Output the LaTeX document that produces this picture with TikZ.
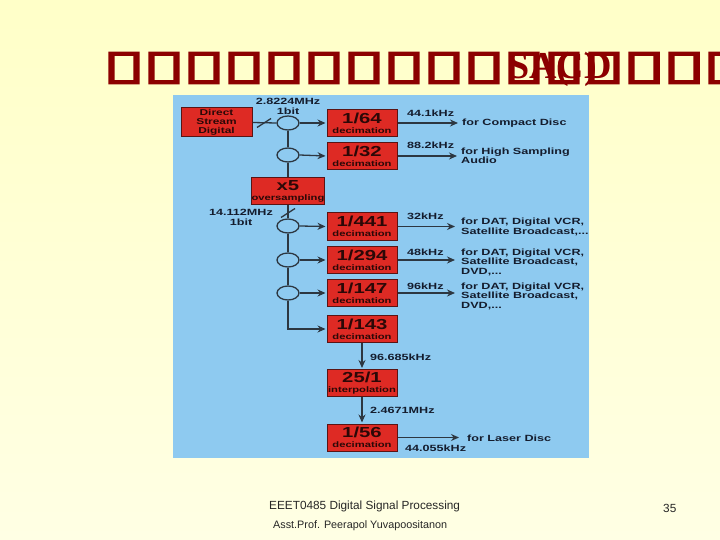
\documentclass[tikz,border=0pt]{standalone}
\usepackage{fontspec}
\setmainfont{Liberation Sans}
\newfontfamily\diagfont[FakeStretch=1.4]{Liberation Sans}
\newfontfamily\tofufont[FakeStretch=2.0,FakeBold=5]{DejaVu Sans}
\newfontfamily\titlefont{Liberation Serif}
\usepackage{tikz}
\usetikzlibrary{arrows.meta,shapes.geometric}
\definecolor{PaperYellow}{RGB}{255,255,200}
\definecolor{PaperLight}{RGB}{255,255,228}
\definecolor{PanelBlue}{RGB}{142,202,240}
\definecolor{BoxRed}{RGB}{222,42,36}
\definecolor{BoxEdge}{RGB}{90,20,20}
\definecolor{LineGray}{RGB}{45,55,65}
\definecolor{LabelNavy}{RGB}{20,28,45}
\definecolor{TitleRed}{RGB}{140,0,0}

\newcommand{\blocktext}[2]{{\fontsize{14.5}{13}\selectfont #1}\\[-2pt]{\fontsize{8}{8}\selectfont #2}}

\tikzset{
  blockbox/.style={draw=BoxEdge, line width=1pt, fill=BoxRed, minimum width=70pt, minimum height=27pt,
    inner sep=0pt, align=center, text=black!80!BoxRed, font=\diagfont\bfseries},
  tapnode/.style={ellipse, draw=LineGray, line width=1.3pt, fill=PanelBlue, minimum width=22pt,
    minimum height=14pt, inner sep=0pt},
  wire/.style={draw=LineGray, line width=1.3pt},
  arrowwire/.style={wire, -{Stealth[length=8pt,width=7pt]}, shorten >=1pt},
  ratelabel/.style={font=\diagfont\bfseries\fontsize{9}{9.5}\selectfont, text=LabelNavy, inner sep=0pt, anchor=west},
  uselabel/.style={font=\diagfont\bfseries\fontsize{9}{9.5}\selectfont, text=LabelNavy, inner sep=0pt,
    anchor=west, align=left},
  tofu/.style={font=\tofufont\fontsize{40}{40}\selectfont, text=TitleRed, inner sep=0pt},
  footer/.style={font=\fontsize{11.8}{13}\selectfont, text=black!85, inner sep=0pt, anchor=west}
}

\begin{document}
\begin{tikzpicture}[x=1pt,y=-1pt]
    \useasboundingbox (0,0) rectangle (720,540);
    \shade[top color=PaperYellow, bottom color=PaperLight] (0,0) rectangle (720,540);

    % title
    \foreach \k in {0,...,15}
        \node[tofu] (tofu\k) at (124+40*\k,68) {▯};
    \node[font=\titlefont\bfseries\fontsize{38}{38}\selectfont, text=TitleRed, inner sep=0pt] (title) at (560,69) {SA\rlap{(}C\rlap{)}D};

    % panel
    \fill[PanelBlue] (173,95) rectangle (589,458);

    \node[blockbox, minimum width=71pt, minimum height=29pt, font=\diagfont\bfseries\fontsize{8.5}{9}\selectfont] (dsd) at (216.5,122.5) {Direct\\Stream\\Digital};

    \node[tapnode] (c1) at (288,123) {};
    \node[tapnode] (c2) at (288,155) {};
    \node[blockbox, minimum width=72pt] (over5) at (288,191.5) {\blocktext{x5}{oversampling}};
    \node[tapnode] (c3) at (288,226) {};
    \node[tapnode] (c4) at (288,260) {};
    \node[tapnode] (c5) at (288,293) {};

    \node[blockbox] (dec64) at (362,123) {\blocktext{1/64}{decimation}};
    \node[blockbox] (dec32) at (362,156) {\blocktext{1/32}{decimation}};
    \node[blockbox] (dec441) at (362,226.5) {\blocktext{1/441}{decimation}};
    \node[blockbox] (dec294) at (362,260) {\blocktext{1/294}{decimation}};
    \node[blockbox] (dec147) at (362,293) {\blocktext{1/147}{decimation}};
    \node[blockbox] (dec143) at (362,329) {\blocktext{1/143}{decimation}};
    \node[blockbox] (interp25) at (362,383) {\blocktext{25/1}{interpolation}};
    \node[blockbox] (dec56) at (362,437.5) {\blocktext{1/56}{decimation}};

    % rates
    \node[ratelabel, anchor=center, align=center] (rate1) at (288,106.5) {2.8224MHz\\1bit};
    \node[ratelabel, anchor=center, align=center] (rate2) at (241,217.5) {14.112MHz\\1bit};
    \node[ratelabel] (r64) at (407,113) {44.1kHz};
    \node[ratelabel] (r32) at (407,145) {88.2kHz};
    \node[ratelabel] (r441) at (407,216) {32kHz};
    \node[ratelabel] (r294) at (407,252) {48kHz};
    \node[ratelabel] (r147) at (407,286) {96kHz};
    \node[ratelabel] (r143) at (370,357) {96.685kHz};
    \node[ratelabel] (r25) at (370,410) {2.4671MHz};
    \node[ratelabel] (r56) at (405,448) {44.055kHz};

    % uses
    \node[uselabel] (u64) at (462,123) {for Compact Disc};
    \node[uselabel] (u32) at (461,156) {for High Sampling\\Audio};
    \node[uselabel] (u441) at (461,227) {for DAT, Digital VCR,\\Satellite Broadcast,...};
    \node[uselabel] (u294) at (461,262) {for DAT, Digital VCR,\\Satellite Broadcast,\\DVD,...};
    \node[uselabel] (u147) at (461,296) {for DAT, Digital VCR,\\Satellite Broadcast,\\DVD,...};
    \node[uselabel] (u56) at (467,438) {for Laser Disc};

    % wiring
    \coordinate (slash1) at (264,123);
    \coordinate (slash2) at (288,213);
    \draw[wire] (dsd.east) -- (c1.west);
    \draw[wire] (slash1) ++(-7,4.5) -- ++(14,-9);
    \draw[wire] (c1.south) -- (c2.north);
    \draw[wire] (c2.south) -- (over5.north);
    \draw[wire] (over5.south) -- (c3.north);
    \draw[wire] (slash2) ++(-7,4.5) -- ++(14,-9);
    \draw[wire] (c3.south) -- (c4.north);
    \draw[wire] (c4.south) -- (c5.north);
    \draw[arrowwire] (c5.south) |- (dec143.west);

    \draw[arrowwire] (c1.east) -- (dec64.west);
    \draw[arrowwire] (c2.east) -- (dec32.west);
    \draw[arrowwire] (c3.east) -- (dec441.west);
    \draw[arrowwire] (c4.east) -- (dec294.west);
    \draw[arrowwire] (c5.east) -- (dec147.west);

    \draw[arrowwire, shorten >=4pt] (dec64.east) -- (dec64.east -| u64.west);
    \draw[arrowwire, shorten >=4pt] (dec32.east) -- (dec32.east -| u32.west);
    \draw[arrowwire, shorten >=6pt] (dec441.east) -- (dec441.east -| u441.west);
    \draw[arrowwire, shorten >=6pt] (dec294.east) -- (dec294.east -| u294.west);
    \draw[arrowwire, shorten >=6pt] (dec147.east) -- (dec147.east -| u147.west);
    \draw[arrowwire] (dec143.south) -- (interp25.north);
    \draw[arrowwire] (interp25.south) -- (dec56.north);
    \draw[arrowwire, shorten >=8pt] (dec56.east) -- (dec56.east -| u56.west);

    % footer
    \node[footer] (course) at (269,506) {EEET0485 Digital Signal Processing};
    \node[footer, font=\fontsize{10.8}{12}\selectfont] (lecturer) at (273,526) {Asst.Prof. Peerapol Yuvapoositanon};
    \node[footer] (page) at (663,508) {35};
\end{tikzpicture}
\end{document}
